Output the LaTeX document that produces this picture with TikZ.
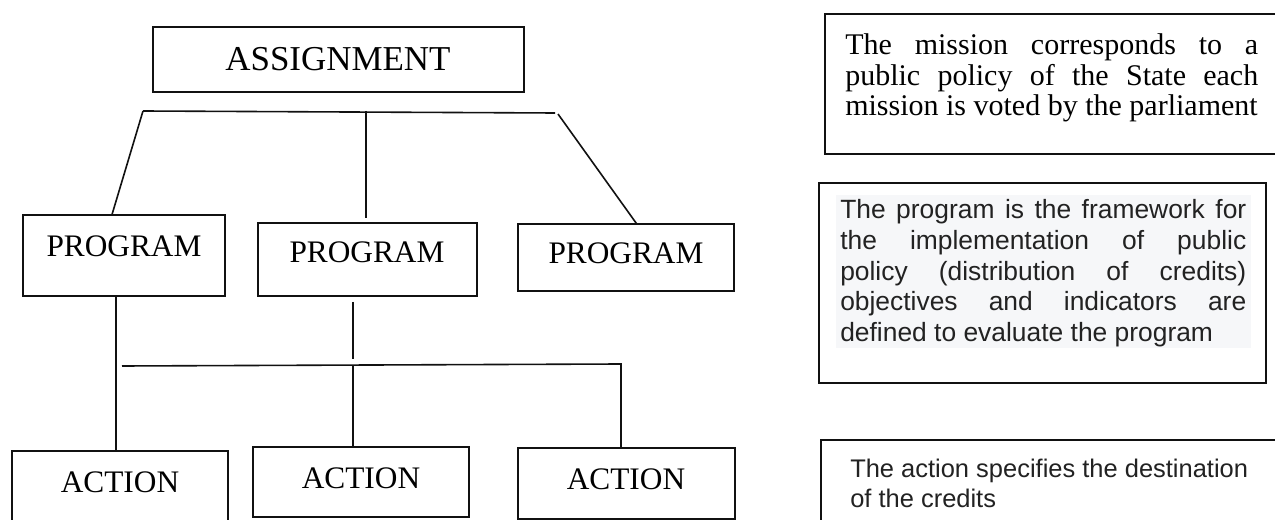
\documentclass[tikz,border=0pt]{standalone}
\usepackage{fontspec}
\setmainfont{Liberation Serif}
\newfontfamily\arialf{Liberation Sans}
\usetikzlibrary{calc,fit}
\definecolor{ink}{HTML}{111111}
\definecolor{hl}{HTML}{F6F7F9}
\definecolor{txt}{HTML}{222222}
\begin{document}
\begin{tikzpicture}[x=0.75pt,y=-0.75pt,
  box/.style={draw=ink, line width=1.2pt, inner sep=0pt, outer sep=0pt},
  conn/.style={draw=ink, line width=1.2pt},
  big/.style={anchor=base, inner sep=0pt, font=\fontsize{26.2}{30}\selectfont},
  lbl/.style={anchor=base, inner sep=0pt, font=\fontsize{23.5}{28}\selectfont}]
\useasboundingbox (0,0) rectangle (1275,520);
\clip (0,0) rectangle (1275,520);
\fill[white] (0,0) rectangle (1275,520);

% hierarchy boxes
\node[box, fit={(153,27) (524,92)}] (asg) {};
\node[big] (asgT) at (338,71) {ASSIGNMENT};

\node[box, fit={(23,215) (225,296)}] (p1) {};
\node[box, fit={(258,223) (477,296)}] (p2) {};
\node[box, fit={(518,224) (734,291)}] (p3) {};
\node[lbl] (p1T) at (124,257) {PROGRAM};
\node[lbl] (p2T) at (367,263) {PROGRAM};
\node[lbl] (p3T) at (626,264) {PROGRAM};

\node[box, fit={(12,451) (228,530)}] (a1) {};
\node[box, fit={(253,447) (469,517)}] (a2) {};
\node[box, fit={(518,448) (735,519)}] (a3) {};
\node[lbl] (a1T) at (120,492) {ACTION};
\node[lbl] (a2T) at (361,488) {ACTION};
\node[lbl] (a3T) at (626,489) {ACTION};

% upper connectors
\coordinate (barL) at (143,111);
\coordinate (barR) at (555,113);
\draw[conn] (barL) -- (barR);
\draw[conn] (barL) -- ($(p1.north west)!0.44!(p1.north east)$);
\coordinate (m2) at ($(p2.north west)!0.494!(p2.north east)$);
\draw[conn] (m2 |- barL) -- ($(m2)+(0,-5)$);
\draw[conn] ($(barR)+(3,1)$) -- ($(p3.north west)!0.55!(p3.north east)$);

% lower connectors
\coordinate (v1) at ($(p1.south west)!0.46!(p1.south east)$);
\draw[conn] (v1) -- (v1 |- a1.north);
\coordinate (hL) at (122,366);
\coordinate (hR) at (621,364);
\draw[conn] (hL) -- (hR) -- (hR |- a3.north);
\coordinate (v2) at ($(p2.south west)!0.434!(p2.south east)$);
\draw[conn] ($(v2)+(0,6)$) -- ($(v2 |- hL)+(0,-7)$);
\draw[conn] (v2 |- hL) -- (v2 |- a2.north);

% explanation boxes
\node[box, fit={(825,14) (1290,154)}] (mbox) {};
\node[box, fit={(819,183) (1266,383)}] (pbox) {};
\node[box, fit={(821,440) (1290,540)}] (abox) {};
\node[fill=hl, inner sep=0pt, fit={(836,195) (1251,348)}] (phl) {};

\node[anchor=base west, inner sep=0pt] (mtxt) at (845,55) {\parbox[t]{309.75pt}{\fontsize{22.5}{22.6}\selectfont
\makebox[\linewidth][s]{The mission corresponds to a}\\
\makebox[\linewidth][s]{public policy of the State each}\\
mission is voted by the parliament}};

\node[anchor=base west, inner sep=0pt, text=txt] (ptxt) at (840,219) {\parbox[t]{304.5pt}{\arialf\fontsize{19.8}{23}\selectfont
\makebox[\linewidth][s]{The program is the framework for}\\
\makebox[\linewidth][s]{the implementation of public}\\
\makebox[\linewidth][s]{policy (distribution of credits)}\\
\makebox[\linewidth][s]{objectives and indicators are}\\
defined to evaluate the program}};

\node[anchor=base west, inner sep=0pt, text=txt] (atxt) at (850,477) {\parbox[t]{340pt}{\arialf\fontsize{19.1}{23}\selectfont
The action specifies the destination\\
of the credits}};
\end{tikzpicture}
\end{document}
